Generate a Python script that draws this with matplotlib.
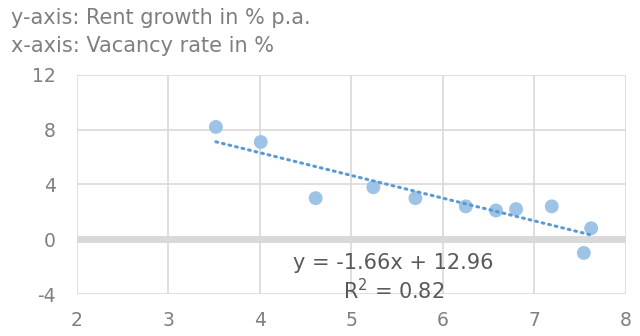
import matplotlib
matplotlib.use("Agg")
import matplotlib.pyplot as plt
import numpy as np

plt.rcParams['font.family'] = ['DejaVu Sans']
plt.rcParams['axes.unicode_minus'] = False

vacancy = [3.52, 4.01, 4.61, 5.24, 5.70, 6.25, 6.58, 6.80, 7.19, 7.62, 7.54]
rent_growth = [8.2, 7.1, 3.0, 3.8, 3.0, 2.4, 2.1, 2.2, 2.4, 0.8, -1.0]
slope, intercept = -1.66, 12.96
r2 = 0.82
x_ticks = [2, 3, 4, 5, 6, 7, 8]
y_ticks = [-4, 0, 4, 8, 12]

fig = plt.figure(figsize=(6.4, 3.36), dpi=100)
ax = fig.add_axes([0.120, 0.125, 0.858, 0.652])

ax.set_xlim(2, 8)
ax.set_ylim(-4, 12)
ax.set_xticks(x_ticks)
ax.set_yticks(y_ticks)
for s in ax.spines.values():
    s.set_visible(False)
ax.grid(True, color='#d9d9d9', linewidth=1.2, zorder=0)
ax.axhline(0, color='#d9d9d9', linewidth=5, zorder=1)
ax.tick_params(length=0, labelsize=13.5, colors='#7f7f7f')
ax.tick_params(axis='y', pad=15)
ax.tick_params(axis='x', pad=12)
ax.set_axisbelow(True)

ax.scatter(vacancy, rent_growth, s=100, color='#9dc3e6', edgecolors='none', zorder=3)

xs = np.array([min(vacancy), max(vacancy)])
ax.plot(xs, slope * xs + intercept, linestyle=(0, (0.6, 1.6)), color='#5b9bd5',
        linewidth=2.2, dash_capstyle='round', zorder=4)

ax.text(5.46, -1.75, f"y = {slope:.2f}x + {intercept:.2f}", ha='center', va='center',
        fontsize=15, color='#595959', zorder=5)
ax.text(5.46, -3.75, f"R$^2$ = {r2:.2f}", ha='center', va='center',
        fontsize=15, color='#595959', zorder=5)

fig.text(0.017, 0.945, "y-axis: Rent growth in % p.a.", ha='left', va='center',
         fontsize=15, color='#7f7f7f')
fig.text(0.017, 0.862, "x-axis: Vacancy rate in %", ha='left', va='center',
         fontsize=15, color='#7f7f7f')

fig.savefig("out.png", dpi=100)
